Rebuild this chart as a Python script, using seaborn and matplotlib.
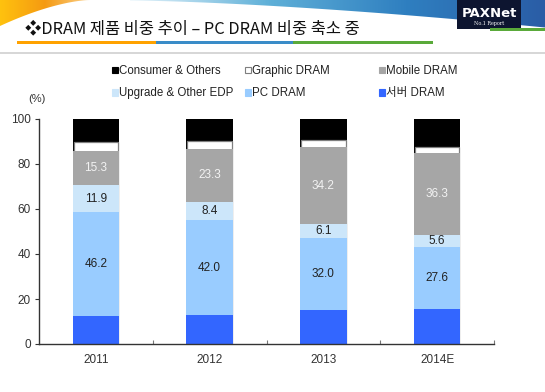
import matplotlib
matplotlib.use("Agg")
import matplotlib.pyplot as plt
from matplotlib.patches import Rectangle, Polygon, Patch
from matplotlib.ticker import MultipleLocator, FixedLocator
import numpy as np
import pandas as pd
import seaborn as sns

sns.set_style("white")
plt.rcParams['font.family'] = ['Noto Sans CJK KR', 'DejaVu Sans']

years = ['2011', '2012', '2013', '2014E']
server = [12.4, 12.9, 15.1, 15.4]
pc = [46.2, 42.0, 32.0, 27.6]
upgrade = [11.9, 8.4, 6.1, 5.6]
mobile = [15.3, 23.3, 34.2, 36.3]
graphic = [3.8, 3.6, 3.3, 2.8]
consumer = [10.4, 9.8, 9.3, 12.3]

# bottom -> top
series = [
    ('서버 DRAM', server, '#3366ff'),
    ('PC DRAM', pc, '#99ccff'),
    ('Upgrade & Other EDP', upgrade, '#cce6fa'),
    ('Mobile DRAM', mobile, '#a6a6a6'),
    ('Graphic DRAM', graphic, '#ffffff'),
    ('Consumer & Others', consumer, '#000000'),
]

df = pd.DataFrame({'year': years})
running = np.zeros(len(years))
for name, vals, _ in series:
    df[name + '_bot'] = running.copy()
    running = running + np.array(vals)
    df[name + '_top'] = running.copy()

W, H = 545, 392
fig = plt.figure(figsize=(W / 100, H / 100), dpi=100)

# ---- header decoration
bg = fig.add_axes([0, 0, 1, 1])
bg.set_xlim(0, W)
bg.set_ylim(H, 0)
bg.axis('off')

xs = np.linspace(130, W, 60)
lower = 0.5 + 27 * ((xs - 130) / (W - 130)) ** 1.5
blue_poly = Polygon(np.vstack([np.column_stack([xs, lower]), [[W, 0], [130, 0]]]),
                    closed=True, facecolor='none', edgecolor='none')
bg.add_patch(blue_poly)
grad = np.linspace(0, 1, 256).reshape(1, -1)
im = bg.imshow(grad, extent=(130, W, 30, 0), aspect='auto',
               cmap=matplotlib.colors.LinearSegmentedColormap.from_list(
                   'b', ['#e6f4fb', '#5fb0d8', '#2f7fc0', '#2a5da6']))
im.set_clip_path(blue_poly)

ox = np.linspace(0, 90, 40)
oy = 26 * (1 - ox / 90) ** 1.6
orange_poly = Polygon(np.vstack([np.column_stack([ox, oy]), [[0, 0]]]),
                      closed=True, facecolor='none', edgecolor='none')
bg.add_patch(orange_poly)
im2 = bg.imshow(grad, extent=(0, 90, 26, 0), aspect='auto',
                cmap=matplotlib.colors.LinearSegmentedColormap.from_list(
                    'o', ['#ffc20e', '#f59a12', '#fbd08a']))
im2.set_clip_path(orange_poly)

bg.add_patch(Rectangle((457, 0), 64, 29, facecolor='#0d1530', edgecolor='none'))
bg.add_patch(Rectangle((490, 28), 55, 3, facecolor='#5aaa3a', edgecolor='none'))
bg.text(489, 13, 'PAXNet', ha='center', va='center', fontsize=9.5,
        fontweight='bold', color='white', family=['DejaVu Sans'])
bg.text(489, 23.5, 'No.1 Report', ha='center', va='center', fontsize=3.5,
        color='white', family=['DejaVu Serif'])

bg.text(25, 29, '❖DRAM 제품 비중 추이 – PC DRAM 비중 축소 중', fontsize=11.8,
        va='center', ha='left', color='#111111')
bg.add_patch(Rectangle((17, 41), 139, 3, facecolor='#ffa200', edgecolor='none'))
bg.add_patch(Rectangle((156, 41), 137, 3, facecolor='#3a8cc8', edgecolor='none'))
bg.add_patch(Rectangle((293, 41), 140, 3, facecolor='#5aaa3a', edgecolor='none'))
bg.plot([0, W], [53, 53], color='#cfcfcf', lw=1.2)

# ---- chart
ax = fig.add_axes([39 / W, 1 - 344 / H, (494 - 39) / W, (344 - 119) / H])

for name, vals, color in reversed(series):
    if name == 'Graphic DRAM':
        sns.barplot(data=df, x='year', y=name + '_top', color=color, width=0.39,
                    saturation=1, edgecolor='#7f7f7f', linewidth=0.9,
                    errorbar=None, ax=ax)
    else:
        sns.barplot(data=df, x='year', y=name + '_top', color=color, width=0.41,
                    saturation=1, linewidth=0, errorbar=None, ax=ax)

label_rows = [('PC DRAM', pc, '#222222'), ('Upgrade & Other EDP', upgrade, '#222222'),
              ('Mobile DRAM', mobile, '#f2f2f2')]
for name, vals, tc in label_rows:
    mids = (df[name + '_bot'] + df[name + '_top']) / 2
    for i, v in enumerate(vals):
        ax.text(i, mids[i], f'{v:.1f}', ha='center', va='center', fontsize=8.5,
                color=tc, family=['Liberation Sans'])

ax.set_xlim(-0.5, 3.5)
ax.set_ylim(0, 100)
ax.set_xlabel('')
ax.set_ylabel('')
ax.yaxis.set_major_locator(MultipleLocator(20))
for s in ['top', 'right']:
    ax.spines[s].set_visible(False)
for s in ['left', 'bottom']:
    ax.spines[s].set_color('#333333')
    ax.spines[s].set_linewidth(1.0)
ax.tick_params(axis='y', length=3, width=0.8, color='#333333', labelsize=8.5,
               labelcolor='#333333', pad=3, left=True)
ax.tick_params(axis='x', which='major', length=0, labelsize=8.5,
               labelcolor='#333333', pad=7)
ax.xaxis.set_minor_locator(FixedLocator([0.5, 1.5, 2.5, 3.5]))
ax.tick_params(axis='x', which='minor', direction='in', length=3, width=0.8,
               color='#777777', bottom=True)
for lab in ax.get_xticklabels() + ax.get_yticklabels():
    lab.set_family(['Liberation Sans'])

fig.text(28 / W, 1 - 99 / H, '(%)', fontsize=8, color='#333333',
         family=['Liberation Sans'], va='center')

# legend: one two-row legend per column, anchored at the column's x
cmap = {n: c for n, _, c in series}
columns = [(112, ['Consumer & Others', 'Upgrade & Other EDP']),
           (245, ['Graphic DRAM', 'PC DRAM']),
           (379, ['Mobile DRAM', '서버 DRAM'])]
for x0, names in columns:
    handles = [Patch(facecolor=cmap[n],
                     edgecolor='#7f7f7f' if n == 'Graphic DRAM' else cmap[n],
                     linewidth=0.8) for n in names]
    leg = fig.legend(handles, names, loc='upper left',
                     bbox_to_anchor=(x0 / W, 1 - 65 / H), frameon=False,
                     borderpad=0, borderaxespad=0,
                     prop={'family': ['Liberation Sans', 'Noto Sans CJK KR'], 'size': 8.3},
                     handlelength=0.5, handleheight=0.5, handletextpad=0.1,
                     labelspacing=0.9)
    for t in leg.get_texts():
        t.set_color('#222222')

fig.savefig('out.png', dpi=100)
